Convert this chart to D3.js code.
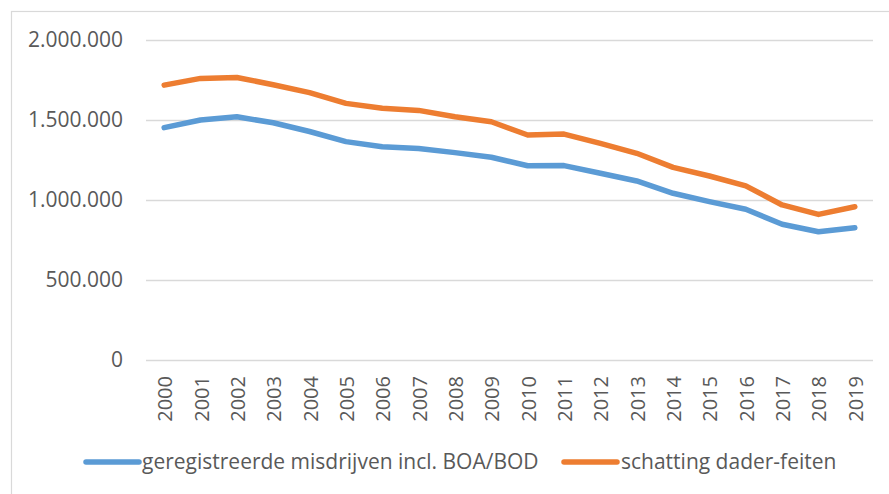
<!DOCTYPE html>
<html>
<head>
<meta charset="utf-8">
<script src="https://cdn.jsdelivr.net/npm/d3@7"></script>
<style>
  html, body { margin: 0; padding: 0; background: #fff; }
  svg { display: block; font-family: "Open Sans", "Noto Sans", sans-serif; }
</style>
</head>
<body>
<svg id="chart" width="889" height="494"></svg>
<script>
// ── Data ────────────────────────────────────────────────────────────────
const years = ['2000','2001','2002','2003','2004','2005','2006','2007','2008','2009',
               '2010','2011','2012','2013','2014','2015','2016','2017','2018','2019'];
const geregistreerd = [1452000, 1500000, 1520000, 1483000, 1428000, 1365000, 1333000, 1322000, 1296000, 1267000,
                       1214000, 1215000, 1167000, 1119000, 1042000, 990000, 942000, 848000, 802000, 827000];
const schatting = [1718000, 1760000, 1766000, 1720000, 1671000, 1604000, 1573000, 1560000, 1520000, 1489000,
                   1406000, 1412000, 1354000, 1292000, 1204000, 1150000, 1088000, 969000, 910000, 958000];
const yTicks = [0, 500000, 1000000, 1500000, 2000000];
const seriesNames = ['geregistreerde misdrijven incl. BOA/BOD', 'schatting dader-feiten'];
const seriesColors = ['#5b9bd5', '#ed7d31'];

// ── Layout ──────────────────────────────────────────────────────────────
const svg = d3.select('#chart');
const plot = { left: 146, right: 873, top: 40, bottom: 360 };

// outer chart border
svg.append('rect')
  .attr('x', 11.5).attr('y', 11.5)
  .attr('width', 900).attr('height', 500)
  .attr('fill', '#fff')
  .attr('stroke', '#d9d9d9')
  .attr('stroke-width', 1.2);

const x = d3.scaleBand().domain(years).range([plot.left, plot.right]);
const y = d3.scaleLinear().domain([0, 2000000]).range([plot.bottom, plot.top]);

const fmt = v => d3.format(',')(v).replace(/,/g, '.');

// gridlines + y labels
const yAxis = d3.axisLeft(y)
  .tickValues(yTicks)
  .tickSize(-(plot.right - plot.left))
  .tickPadding(23)
  .tickFormat(fmt);

svg.append('g')
  .attr('transform', `translate(${plot.left},0)`)
  .call(yAxis)
  .call(g => g.select('.domain').remove())
  .call(g => g.selectAll('.tick line').attr('stroke', '#d9d9d9').attr('stroke-width', 1.3))
  .call(g => g.selectAll('.tick text')
    .attr('fill', '#595959')
    .attr('font-size', 21)
    .attr('font-family', '"Open Sans", sans-serif'));

// x labels (rotated)
const xAxis = d3.axisBottom(x).tickSize(0).tickPadding(0);
svg.append('g')
  .attr('transform', `translate(0,${plot.bottom})`)
  .call(xAxis)
  .call(g => g.select('.domain').remove())
  .call(g => g.selectAll('.tick text')
    .attr('fill', '#595959')
    .attr('font-size', 20)
    .attr('font-family', '"Open Sans", sans-serif')
    .attr('text-anchor', 'end')
    .attr('dy', '0.35em')
    .attr('transform', 'translate(1,16) rotate(-90)'));

// lines
const line = d3.line()
  .x((d, i) => x(years[i]) + x.bandwidth() / 2)
  .y(d => y(d));

[geregistreerd, schatting].forEach((vals, i) => {
  svg.append('path')
    .attr('d', line(vals))
    .attr('fill', 'none')
    .attr('stroke', seriesColors[i])
    .attr('stroke-width', 5.5)
    .attr('stroke-linejoin', 'round')
    .attr('stroke-linecap', 'round');
});

// legend
const legendItems = [
  { x1: 86, x2: 139, tx: 142 },
  { x1: 564, x2: 617, tx: 621 }
];
const legend = svg.append('g').attr('class', 'legend');
legendItems.forEach((it, i) => {
  legend.append('line')
    .attr('x1', it.x1).attr('x2', it.x2)
    .attr('y1', 462).attr('y2', 462)
    .attr('stroke', seriesColors[i])
    .attr('stroke-width', 5.5)
    .attr('stroke-linecap', 'round');
  legend.append('text')
    .attr('x', it.tx).attr('y', 462)
    .attr('dy', '0.35em')
    .attr('fill', '#595959')
    .attr('font-size', 21)
    .text(seriesNames[i]);
});
</script>
</body>
</html>
